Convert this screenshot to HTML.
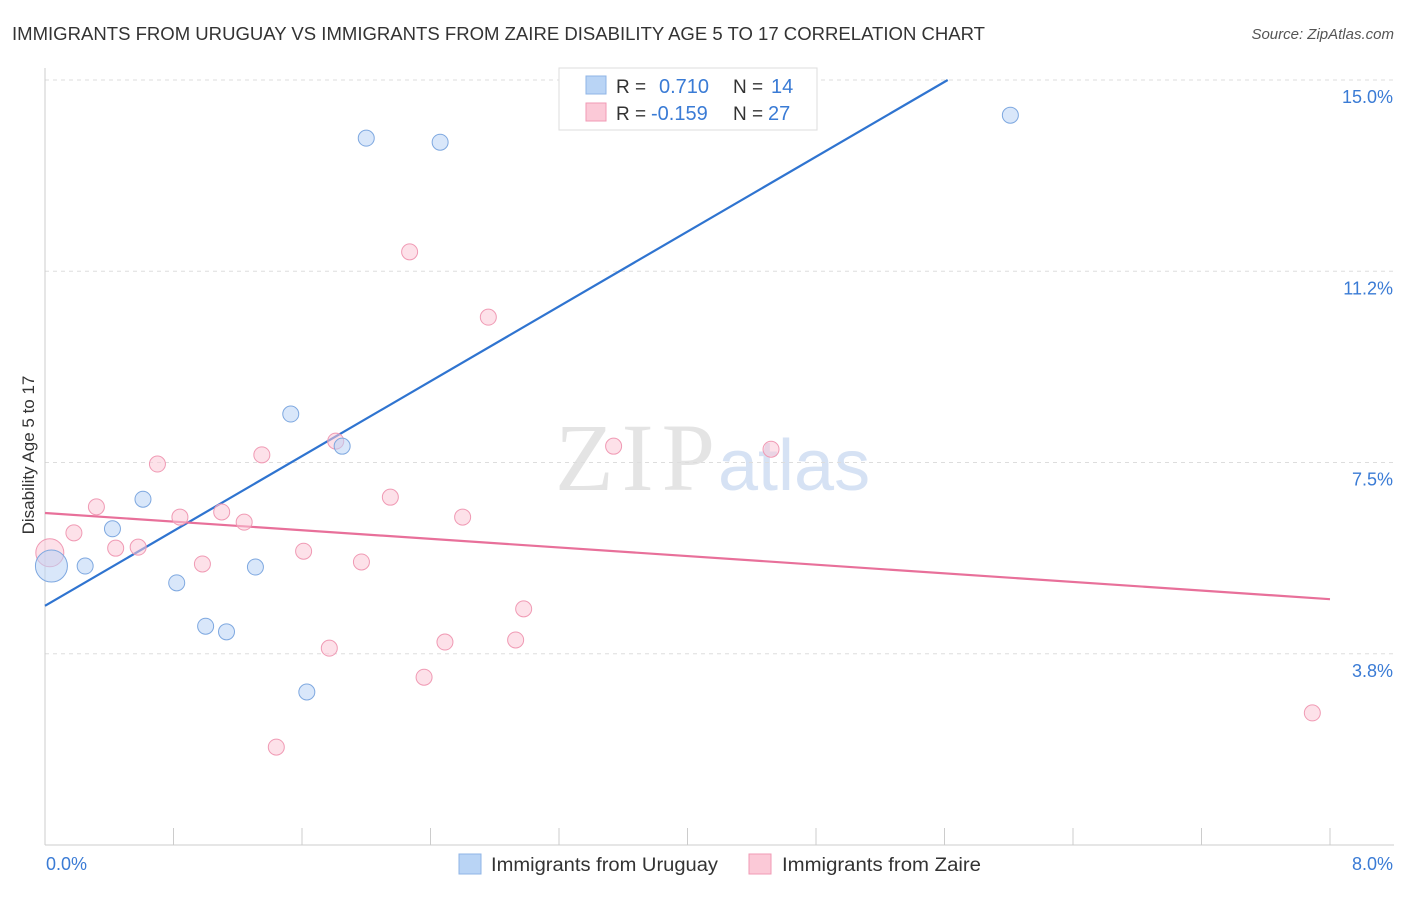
<!DOCTYPE html>
<html><head><meta charset="utf-8"><style>
body{margin:0;background:#fff;font-family:"Liberation Sans",sans-serif}
</style></head><body>
<svg id="chart" width="1406" height="892" font-family="Liberation Sans, sans-serif">
<text x="12" y="40" font-size="18" fill="#333" textLength="973" lengthAdjust="spacingAndGlyphs">IMMIGRANTS FROM URUGUAY VS IMMIGRANTS FROM ZAIRE DISABILITY AGE 5 TO 17 CORRELATION CHART</text>
<text x="1394" y="39" font-size="15" fill="#555" font-style="italic" text-anchor="end">Source: ZipAtlas.com</text>
<text x="555" y="490" font-size="96" fill="#e4e4e4" style="font-family:'Liberation Serif',serif" textLength="160">ZIP</text>
<text x="718" y="490" font-size="72" fill="#d6e2f4">atlas</text>
<g id="grid"></g><g id="axes"></g><g id="trends"></g><g id="points"></g>
<text transform="translate(34,455) rotate(-90)" font-size="17" fill="#333" text-anchor="middle">Disability Age 5 to 17</text>
<g>
<rect x="559" y="68" width="258" height="62" fill="#fff" stroke="#ddd"/>
<rect x="586" y="76" width="20" height="18" fill="#b9d4f5" stroke="#8fb4e6"/>
<rect x="586" y="103" width="20" height="18" fill="#fbc9d7" stroke="#f09ab4"/>
<text x="616" y="93" font-size="19" fill="#333">R =</text>
<text x="659" y="93" font-size="20" fill="#3a7bd5">0.710</text>
<text x="733" y="93" font-size="19" fill="#333">N =</text>
<text x="771" y="93" font-size="20" fill="#3a7bd5">14</text>
<text x="616" y="120" font-size="19" fill="#333">R =</text>
<text x="651" y="120" font-size="20" fill="#3a7bd5">-0.159</text>
<text x="733" y="120" font-size="19" fill="#333">N =</text>
<text x="768" y="120" font-size="20" fill="#3a7bd5">27</text>
</g>
<g>
<rect x="459" y="854" width="22" height="20" fill="#b9d4f5" stroke="#8fb4e6"/>
<text x="491" y="871" font-size="19" fill="#333" textLength="227" lengthAdjust="spacingAndGlyphs">Immigrants from Uruguay</text>
<rect x="749" y="854" width="22" height="20" fill="#fbc9d7" stroke="#f09ab4"/>
<text x="782" y="871" font-size="19" fill="#333" textLength="199" lengthAdjust="spacingAndGlyphs">Immigrants from Zaire</text>
</g>
</svg>
<script>
const yTicks=[3.75,7.5,11.25,15];
const yTickLabels=["3.8%","7.5%","11.2%","15.0%"];
const xTickLabels=["0.0%","8.0%"];
const uruguayX=[0.04,0.25,0.42,0.61,0.82,1.0,1.13,1.31,1.53,1.63,1.85,2.0,2.46,6.01];
const uruguayY=[5.47,5.47,6.2,6.78,5.14,4.29,4.18,5.45,8.45,3.0,7.82,13.86,13.78,14.31];
const zaireX=[0.03,0.18,0.32,0.44,0.58,0.70,0.84,0.98,1.10,1.24,1.35,1.44,1.61,1.77,1.81,1.97,2.15,2.27,2.36,2.49,2.60,2.76,2.93,2.98,3.54,4.52,7.89];
const zaireY=[5.73,6.12,6.63,5.82,5.84,7.47,6.43,5.51,6.53,6.33,7.65,1.92,5.76,3.86,7.92,5.55,6.82,11.63,3.29,3.98,6.43,10.35,4.02,4.63,7.82,7.76,2.59];
const uruguayTrend=[[0,4.69],[5.62,15.0]];
const zaireTrend=[[0,6.51],[8,4.82]];
const NS="http://www.w3.org/2000/svg";
const X=v=>45+v*160.625, Y=v=>845-v*51.0;
function mk(t,a,p){const e=document.createElementNS(NS,t);for(const k in a)e.setAttribute(k,a[k]);document.getElementById(p).appendChild(e);return e;}
yTicks.forEach((t,i)=>{
 const l=mk('line',{x1:45,x2:1394,y1:Y(t),y2:Y(t),stroke:'#ddd','stroke-dasharray':'4,4'},'grid');
 
 
 const tx=mk('text',{x:1393,y:Y(t)+23,'font-size':18,fill:'#3a7bd5','text-anchor':'end'},'grid');
 tx.textContent=yTickLabels[i];
 
 
});
const ax=mk('line',{x1:45,x2:45,y1:68,y2:845,stroke:'#ccc'},'axes');


const bx=mk('line',{x1:45,x2:1394,y1:845,y2:845,stroke:'#ccc'},'axes');


for(let i=0;i<=10;i++){
 const t=mk('line',{x1:X(i*0.8),x2:X(i*0.8),y1:828,y2:845,stroke:'#ccc'},'axes');
 
 
}
[[0,46,'start'],[8,1393,'end']].forEach((d,i)=>{
 const t=mk('text',{x:d[1],y:870,'font-size':18,fill:'#3a7bd5','text-anchor':d[2]},'axes');
 t.textContent=xTickLabels[i];
 
 
});
const tb=mk('line',{x1:X(uruguayTrend[0][0]),y1:Y(uruguayTrend[0][1]),x2:X(uruguayTrend[1][0]),y2:Y(uruguayTrend[1][1]),stroke:'#2f74d0','stroke-width':2.2},'trends');


const tp=mk('line',{x1:X(zaireTrend[0][0]),y1:Y(zaireTrend[0][1]),x2:X(zaireTrend[1][0]),y2:Y(zaireTrend[1][1]),stroke:'#e8709a','stroke-width':2.2},'trends');


zaireX.forEach((x,i)=>{
 const c=mk('circle',{cx:X(x),cy:Y(zaireY[i]),r:i==0?14:8,fill:'rgba(251,201,215,0.55)',stroke:'#f09ab4','stroke-width':1},'points');
 
 
});
uruguayX.forEach((x,i)=>{
 const c=mk('circle',{cx:X(x),cy:Y(uruguayY[i]),r:i==0?16:8,fill:'rgba(185,212,245,0.55)',stroke:'#7ea8e0','stroke-width':1},'points');
 
 
});
</script>
</body></html>
